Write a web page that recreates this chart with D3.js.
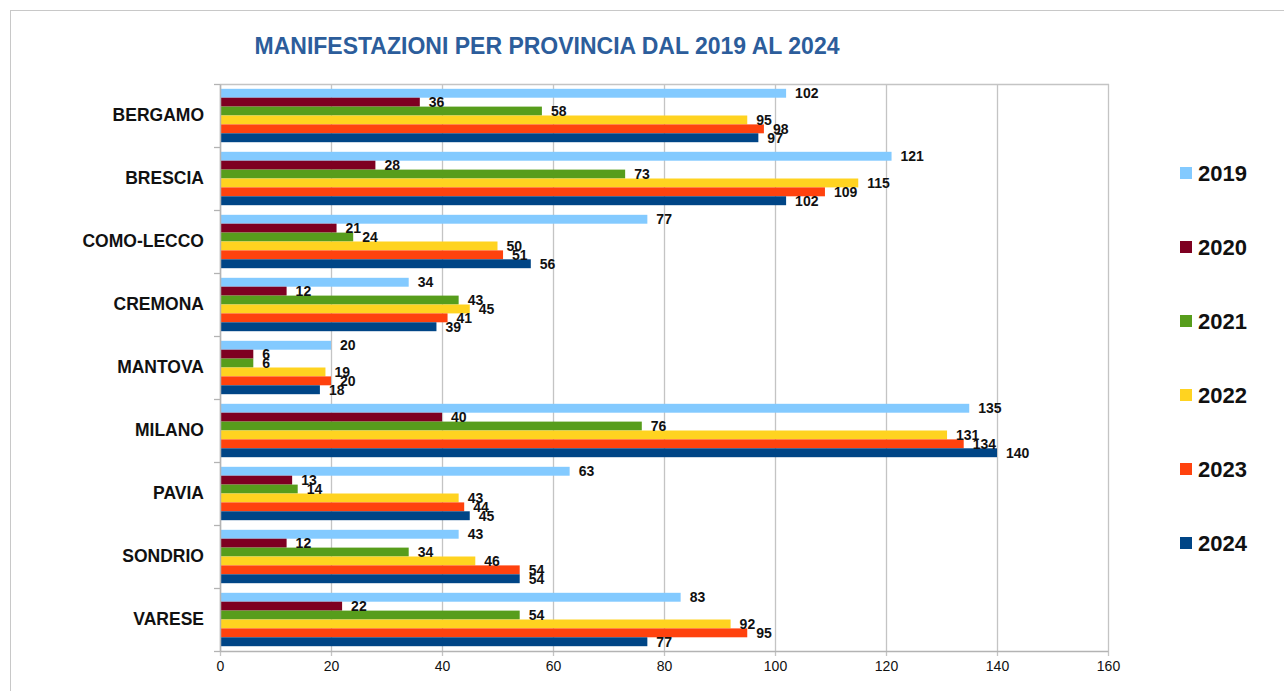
<!DOCTYPE html>
<html><head><meta charset="utf-8">
<script src="https://cdn.jsdelivr.net/npm/d3@7"></script>
<style>html,body{margin:0;padding:0;background:#fff;}svg{display:block;font-family:"Liberation Sans",Arial,sans-serif;}</style>
</head><body>
<svg id="c" width="1284" height="691"></svg>
<script>
const categories = ["BERGAMO","BRESCIA","COMO-LECCO","CREMONA","MANTOVA","MILANO","PAVIA","SONDRIO","VARESE"];
const years = ["2019","2020","2021","2022","2023","2024"];
const v2019 = [102,121,77,34,20,135,63,43,83];
const v2020 = [36,28,21,12,6,40,13,12,22];
const v2021 = [58,73,24,43,6,76,14,34,54];
const v2022 = [95,115,50,45,19,131,43,46,92];
const v2023 = [98,109,51,41,20,134,44,54,95];
const v2024 = [97,102,56,39,18,140,45,54,77];
const xTicks = [0,20,40,60,80,100,120,140,160];
const colors = ["#83caff","#7e0021","#579d1c","#ffd320","#ff420e","#004586"];
const series = [v2019,v2020,v2021,v2022,v2023,v2024];

const svg = d3.select("#c");
const L = 220, R = 1108, T = 84, B = 651;

// outer frame
svg.append("line").attr("x1",10).attr("x2",1284).attr("y1",10.5).attr("y2",10.5).attr("stroke","#c8c8c8");
svg.append("line").attr("x1",10.5).attr("x2",10.5).attr("y1",10).attr("y2",691).attr("stroke","#c8c8c8");

svg.append("text").attr("x",547).attr("y",54).attr("text-anchor","middle")
  .attr("font-size",23).attr("font-weight","bold").attr("fill","#2c5d9b")
  .text("MANIFESTAZIONI PER PROVINCIA DAL 2019 AL 2024");

const x = d3.scaleLinear().domain([0,160]).range([L,R]);
const y0 = d3.scaleBand().domain(categories).range([T,B]).padding(0);
const y1 = d3.scaleBand().domain(years).range([0,y0.bandwidth()]).paddingInner(0).paddingOuter(0.54);

// gridlines + bottom ticks
const gx = svg.append("g");
gx.selectAll("line").data(xTicks).join("line")
  .attr("x1",d=>Math.round(x(d))+0.5).attr("x2",d=>Math.round(x(d))+0.5)
  .attr("y1",T).attr("y2",B+5).attr("stroke","#c4c4c4").attr("stroke-width",1.3);
// top border
svg.append("line").attr("x1",L).attr("x2",R+1).attr("y1",T+0.5).attr("y2",T+0.5).attr("stroke","#c4c4c4").attr("stroke-width",1.3);

// bars
const cat = svg.append("g").selectAll("g").data(categories).join("g")
  .attr("transform",c=>`translate(0,${y0(c)})`);
cat.selectAll("rect").data((c,i)=>years.map((yr,j)=>({yr,v:series[j][i],j}))).join("rect")
  .attr("x",x(0)).attr("y",d=>y1(d.yr)).attr("width",d=>x(d.v)-x(0)).attr("height",y1.bandwidth())
  .attr("fill",d=>colors[d.j]);
cat.selectAll("text").data((c,i)=>years.map((yr,j)=>({yr,v:series[j][i],j}))).join("text")
  .attr("x",d=>x(d.v)+9).attr("y",d=>y1(d.yr)+y1.bandwidth()/2).attr("dy","0.36em")
  .attr("font-size",14).attr("font-weight","bold").attr("fill","#111").text(d=>d.v);

// axes
const xa = d3.axisBottom(x).tickValues(xTicks).tickSize(0).tickPadding(10);
const gxa = svg.append("g").attr("transform",`translate(0,${B})`).call(xa);
gxa.select(".domain").attr("stroke","#b3b3b3").attr("stroke-width",1.5);
gxa.selectAll("text").attr("font-size",14).attr("fill","#111").attr("font-family","Liberation Sans, Arial, sans-serif");

const ya = d3.axisLeft(y0).tickSize(0).tickPadding(16);
const gya = svg.append("g").attr("transform",`translate(${L},0)`).call(ya);
gya.select(".domain").attr("stroke","#b3b3b3").attr("stroke-width",1.5);
gya.selectAll("text").attr("font-size",17.5).attr("font-weight","bold").attr("fill","#111").attr("font-family","Liberation Sans, Arial, sans-serif");
// category boundary ticks
const bounds = categories.map(c=>y0(c)).concat([B]);
svg.append("g").selectAll("line").data(bounds).join("line")
  .attr("x1",L-6).attr("x2",L).attr("y1",d=>d+0.5).attr("y2",d=>d+0.5).attr("stroke","#b3b3b3").attr("stroke-width",1.3);

// legend
const lg = svg.append("g").selectAll("g").data(years).join("g")
  .attr("transform",(d,i)=>`translate(1180,${173+i*74})`);
lg.append("rect").attr("x",0).attr("y",-6).attr("width",12).attr("height",12).attr("fill",(d,i)=>colors[i]);
lg.append("text").attr("x",18).attr("y",0).attr("dy","0.36em").attr("font-size",22).attr("font-weight","bold").attr("fill","#111").text(d=>d);
</script>
</body></html>
